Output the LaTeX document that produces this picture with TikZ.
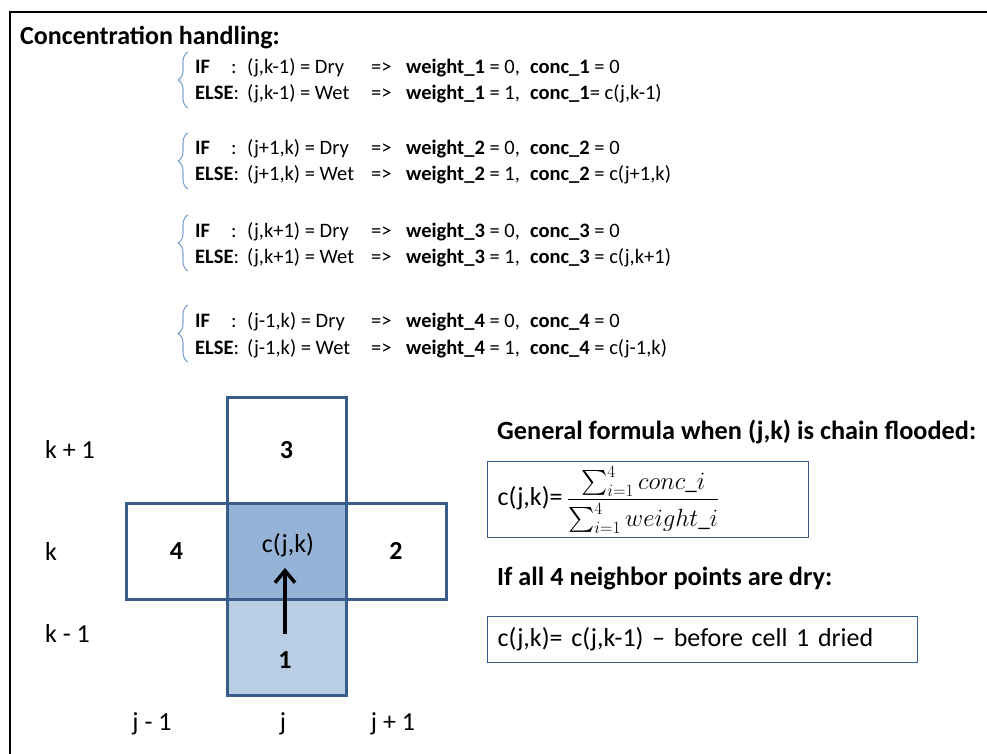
\documentclass[tikz,border=0pt]{standalone}
\usepackage{fontspec}
\setmainfont{Carlito}
\usepackage{amsmath}
\usetikzlibrary{arrows.meta,decorations.pathreplacing}

\definecolor{edgeblue}{HTML}{385D8A}
\definecolor{midblue}{HTML}{95B3D7}
\definecolor{lowblue}{HTML}{B9CDE5}
\definecolor{braceblue}{HTML}{7EA3D0}

\newcommand{\condif}{\makebox[52pt][l]{\makebox[36pt][l]{\textbf{IF}}:}}
\newcommand{\condelse}{\makebox[52pt][l]{\textbf{ELSE}:}}
\newcommand{\cellcol}[1]{\makebox[124pt][l]{#1}}
\newcommand{\impl}{\makebox[35pt][l]{=>}}

\begin{document}
\begin{tikzpicture}[x=1pt, y=-1pt,
  frame/.style={line width=2pt},
  cell/.style={draw=edgeblue, line width=3pt, inner sep=0pt,
               font=\fontsize{26}{30}\selectfont\bfseries},
  cond/.style={anchor=base west, inner sep=0pt, font=\fontsize{20.5}{24}\selectfont},
  grp/.style={decorate, decoration={brace, amplitude=10pt}, draw=braceblue, line width=1.1pt},
  lbl/.style={inner sep=2pt, font=\fontsize{26}{30}\selectfont},
  num/.style={inner sep=2pt, font=\fontsize{26}{30}\selectfont\bfseries},
  head/.style={anchor=west, inner sep=0pt, font=\fontsize{26.3}{30}\selectfont\bfseries},
  fbox/.style={draw=edgeblue, line width=1.2pt, anchor=north west, inner xsep=10pt,
               align=left, font=\fontsize{26}{30}\selectfont},
  arr/.style={-{Straight Barb[length=12pt,width=20pt]}, line width=3.5pt},
]
\useasboundingbox (0,0) rectangle (987,754);
\draw[frame] (10,754) -- (10,12) -- (987,12);

% conditions
\node[anchor=base west, inner sep=0pt, font=\fontsize{26}{30}\selectfont\bfseries]
  (title) at (20,45) {Concentration handling:};
\node[cond] (if1) at (195,74) {\condif\cellcol{(j,k-1) = Dry}\impl\textbf{weight\_1} = 0,\enspace\textbf{conc\_1} = 0};
\node[cond] (else1) at (195,100) {\condelse\cellcol{(j,k-1) = Wet}\impl\textbf{weight\_1} = 1,\enspace\textbf{conc\_1}= c(j,k-1)};
\node[cond] (if2) at (195,155) {\condif\cellcol{(j+1,k) = Dry}\impl\textbf{weight\_2} = 0,\enspace\textbf{conc\_2} = 0};
\node[cond] (else2) at (195,181) {\condelse\cellcol{(j+1,k) = Wet}\impl\textbf{weight\_2} = 1,\enspace\textbf{conc\_2} = c(j+1,k)};
\node[cond] (if3) at (195,237) {\condif\cellcol{(j,k+1) = Dry}\impl\textbf{weight\_3} = 0,\enspace\textbf{conc\_3} = 0};
\node[cond] (else3) at (195,263) {\condelse\cellcol{(j,k+1) = Wet}\impl\textbf{weight\_3} = 1,\enspace\textbf{conc\_3} = c(j,k+1)};
\node[cond] (if4) at (195,327) {\condif\cellcol{(j-1,k) = Dry}\impl\textbf{weight\_4} = 0,\enspace\textbf{conc\_4} = 0};
\node[cond] (else4) at (195,354) {\condelse\cellcol{(j-1,k) = Wet}\impl\textbf{weight\_4} = 1,\enspace\textbf{conc\_4} = c(j-1,k)};
\draw[grp] (188,108) -- (188,52);
\draw[grp] (188,189) -- (188,133);
\draw[grp] (188,271) -- (188,215);
\draw[grp] (188,362) -- (188,305);

% cells
\node[cell, minimum width=119pt, minimum height=106pt] (c3) at (286.5,450) {3};
\node[cell, minimum width=101pt, minimum height=96pt] (c4) at (176.5,551) {4};
\node[cell, minimum width=100pt, minimum height=96pt] (c2) at (396,551) {2};
\node[cell, fill=midblue, minimum width=119pt, minimum height=96pt] (c0) at (286.5,551) {};
\node[cell, fill=lowblue, minimum width=119pt, minimum height=96pt] (c1) at (286.5,647) {};
\node[lbl] (cjk) at (288,545) {c(j,k)};
\node[num] (num1) at (285,660) {1};
\draw[arr, shorten <=15pt, shorten >=9pt] (num1.north) -- (num1.north |- cjk.south);

\node[lbl, anchor=west] (kup) at (43,449) {k + 1};
\node[lbl, anchor=west] (kmid) at (43,551) {k};
\node[lbl, anchor=west] (kdown) at (43,633) {k - 1};
\node[lbl] (jleft) at (152,724) {j - 1};
\node[lbl] (jmid) at (283,724) {j};
\node[lbl] (jright) at (393,724) {j + 1};

% formulas
\node[head] (hgen) at (497,432) {General formula when (j,k) is chain flooded:};
\node[fbox, minimum width=321pt, minimum height=76pt, text width=301pt] (fbox1) at (487,461)
  {c(j,k)=\,{\fontsize{23}{27}\selectfont$\dfrac{\sum_{i=1}^{4} conc\_i}{\sum_{i=1}^{4} weight\_i}$}};
\node[head] (hdry) at (497,578) {If all 4 neighbor points are dry:};
\node[fbox, minimum width=430pt, minimum height=46pt, text width=410pt] (fbox2) at (487,616)
  {c(j,k)= c(j,k-1) -- before cell 1 dried};
\end{tikzpicture}
\end{document}
